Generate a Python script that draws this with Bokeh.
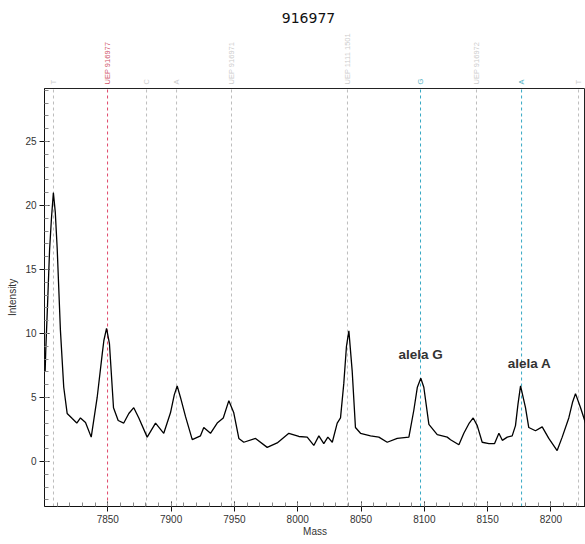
import math
from bokeh.plotting import figure
from bokeh.models import Range1d, FixedTicker, ColumnDataSource
from bokeh.layouts import column
from bokeh.core.properties import value
from bokeh.embed import file_html
from bokeh.resources import INLINE

title_text = "916977"

mass = [7800.5, 7801.0, 7802.5, 7804.0, 7805.5, 7807.0, 7808.5, 7810.0, 7812.6, 7815.2,
        7817.9, 7821.9, 7825.5, 7828.4, 7832.4, 7836.9, 7841.6, 7845.6, 7846.9, 7849.0,
        7851.3, 7854.5, 7858.2, 7862.6, 7866.6, 7870.5, 7874.5, 7881.1, 7887.7, 7894.2,
        7899.5, 7902.5, 7904.8, 7907.4, 7911.4, 7916.7, 7923.2, 7925.8, 7931.1, 7936.4,
        7941.2, 7945.6, 7949.5, 7953.5, 7957.4, 7966.7, 7975.9, 7983.8, 7993.0, 8000.9,
        8007.5, 8012.7, 8016.7, 8020.6, 8023.8, 8027.3, 8031.2, 8033.8, 8036.4, 8038.5,
        8040.4, 8043.0, 8045.6, 8049.6, 8057.5, 8064.1, 8070.7, 8078.6, 8087.8, 8091.7,
        8094.5, 8097.2, 8099.6, 8103.6, 8110.2, 8118.1, 8120.7, 8127.3, 8131.2, 8135.5,
        8138.6, 8141.8, 8145.7, 8151.0, 8155.5, 8158.9, 8161.6, 8165.5, 8169.4, 8172.0,
        8174.0, 8176.0, 8179.9, 8182.5, 8187.8, 8193.1, 8198.3, 8204.9, 8208.9, 8214.1,
        8217.0, 8219.4, 8223.4, 8227.3]
intensity = [7.0, 8.7, 12.5, 16.5, 19.0, 21.0, 19.5, 16.7, 10.2, 5.8,
             3.75, 3.35, 3.0, 3.4, 3.05, 1.9, 5.0, 8.4, 9.45, 10.4,
             9.2, 4.2, 3.2, 3.0, 3.75, 4.2, 3.4, 1.9, 3.0, 2.2,
             3.8, 5.2, 5.9, 5.0, 3.5, 1.7, 2.0, 2.65, 2.2, 3.0,
             3.4, 4.75, 3.8, 1.8, 1.5, 1.8, 1.1, 1.45, 2.2, 1.95,
             1.9, 1.25, 2.0, 1.4, 1.9, 1.5, 3.0, 3.4, 6.1, 9.0,
             10.2, 7.1, 2.65, 2.2, 2.0, 1.9, 1.5, 1.8, 1.9, 4.0,
             5.8, 6.5, 5.8, 2.9, 2.1, 1.9, 1.7, 1.3, 2.2, 3.0,
             3.4, 2.8, 1.5, 1.4, 1.4, 2.2, 1.65, 1.9, 2.0, 2.8,
             4.5, 5.9, 4.2, 2.65, 2.4, 2.7, 1.8, 0.85, 1.9, 3.4,
             4.6, 5.3, 4.2, 3.0]

marker_mass = [7807.1, 7849.8, 7880.6, 7904.3, 7947.7, 8039.3, 8097.0, 8141.2, 8176.8, 8221.8]
marker_label = ["T", "UEP 916977", "C", "A", "UEP 916971", "UEP 1111 1501", "G", "UEP 916972", "A", "T"]
marker_kind = ["gray", "red", "gray", "gray", "gray", "gray", "cyan", "gray", "cyan", "gray"]

allele_mass = [8097.0, 8183.1]
allele_int = [8.36, 7.65]
allele_text = ["alela G", "alela A"]

x_ticks = [7850, 7900, 7950, 8000, 8050, 8100, 8150, 8200]
y_ticks = [0, 5, 10, 15, 20, 25]

X0, X1 = 7800.0, 8227.3
Y0, Y1 = -3.52, 29.14

line_col = {"gray": "#bdbdbd", "red": "#e0486a", "cyan": "#35a8c4"}
lab_col = {"gray": "#cdcdcd", "red": "#d0566a", "cyan": "#5ab3c4"}

xr = Range1d(X0, X1)

# top strip: title + marker labels
top = figure(width=585, height=87, x_range=xr, y_range=Range1d(87, 0),
             output_backend="svg", toolbar_location=None,
             x_axis_location=None, y_axis_location=None,
             min_border_left=44, min_border_right=0, min_border_top=0, min_border_bottom=0)
top.grid.visible = False
top.outline_line_color = None
top.text(x=[8008.5], y=[17], text=[title_text], text_font=value("DejaVu Sans"),
         text_font_size="14px", text_color="#111111", text_align="center", text_baseline="middle")
msrc = ColumnDataSource(dict(x=marker_mass, y=[84] * len(marker_mass), t=marker_label,
                             c=[lab_col[k] for k in marker_kind]))
top.text(x="x", y="y", text="t", source=msrc, angle=math.pi / 2, text_color="c",
         text_font=value("Liberation Sans"), text_font_size="7.5px",
         text_align="left", text_baseline="middle")

p = figure(width=585, height=457, x_range=xr, y_range=Range1d(Y0, Y1),
           output_backend="svg", toolbar_location=None,
           min_border_left=44, min_border_right=0, min_border_top=1, min_border_bottom=38)
p.grid.visible = False
p.outline_line_color = "#222222"
p.outline_line_width = 1

for kind in ("gray", "red", "cyan"):
    xs = [m for m, k in zip(marker_mass, marker_kind) if k == kind]
    p.segment(x0=xs, y0=[Y0] * len(xs), x1=xs, y1=[Y1] * len(xs),
              line_color=line_col[kind], line_width=1, line_dash="3 3")

p.line(mass, intensity, line_color="#000000", line_width=1.3)

p.text(x=allele_mass, y=allele_int, text=allele_text, text_font=value("Liberation Sans"),
       text_font_size="13.5px", text_font_style="bold", text_color="#333333",
       text_align="center", text_baseline="middle")

p.xaxis.ticker = FixedTicker(ticks=x_ticks, minor_ticks=list(range(7800, 8230, 10)))
p.yaxis.ticker = FixedTicker(ticks=y_ticks, minor_ticks=list(range(-3, 30)))
for ax in (p.xaxis[0], p.yaxis[0]):
    ax.major_tick_in = 5
    ax.major_tick_out = 5
    ax.minor_tick_in = 4
    ax.minor_tick_out = 0
    ax.minor_tick_line_color = "#8a8a8a"
    ax.major_tick_line_color = "#111111"
    ax.axis_line_color = "#111111"
    ax.major_label_text_font = "Liberation Sans"
    ax.major_label_text_font_size = "10px"
    ax.major_label_text_color = "#333333"
    ax.axis_label_text_font = "Liberation Sans"
    ax.axis_label_text_font_size = "10px"
    ax.axis_label_text_font_style = "normal"
    ax.axis_label_text_color = "#333333"
    ax.major_label_standoff = 3
p.xaxis.axis_label = "Mass"
p.yaxis.axis_label = "Intensity"
p.xaxis.axis_label_standoff = 0
p.yaxis.axis_label_standoff = 4

layout = column(top, p, spacing=0)
open("out.html", "w").write(file_html(layout, INLINE))
